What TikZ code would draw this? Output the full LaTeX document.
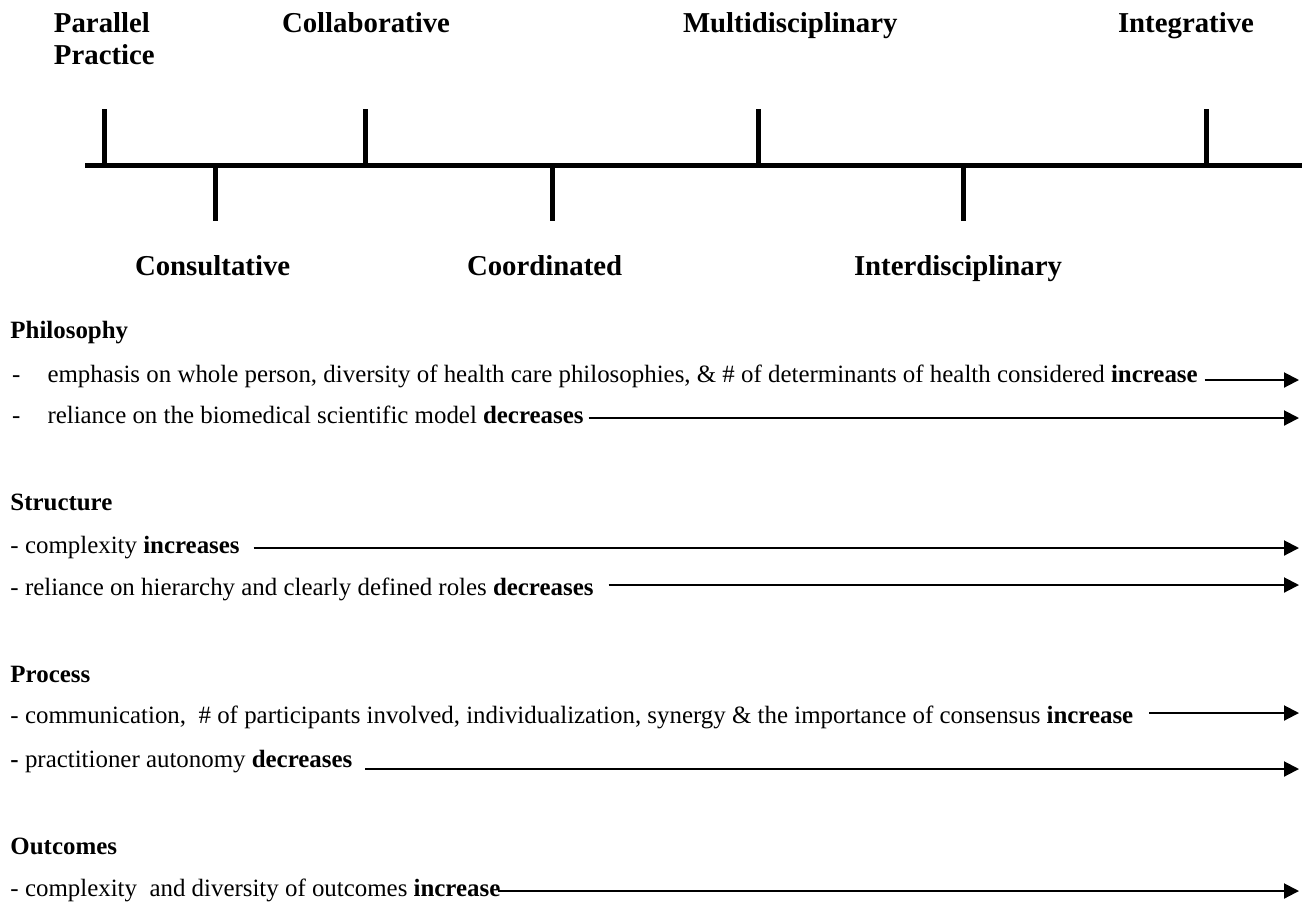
\documentclass[tikz,border=0pt]{standalone}
\usepackage{fontspec}
\setmainfont{Liberation Serif}
\usetikzlibrary{arrows.meta}
\begin{document}
\begin{tikzpicture}[x=0.5pt,y=-0.5pt,
  lab/.style={font=\fontsize{14.4}{16}\selectfont\bfseries, inner sep=0pt, outer sep=0pt, anchor=base west},
  txt/.style={font=\fontsize{12.45}{14}\selectfont, inner sep=0pt, outer sep=0pt, anchor=base west},
  hdr/.style={txt, font=\fontsize{12.45}{14}\selectfont\bfseries},
  tl/.style={line width=2.5pt},
  arr/.style={line width=1pt, -{Triangle[length=7.5pt,width=7.5pt]}}]
\useasboundingbox (0,0) rectangle (1305,901);

% timeline
\draw[tl] (85,165) -- (1302,165);
\draw[tl] (104,109) -- (104,165);
\draw[tl] (365,109) -- (365,165);
\draw[tl] (758,109) -- (758,165);
\draw[tl] (1206,109) -- (1206,165);
\draw[tl] (215,165) -- (215,221);
\draw[tl] (552,165) -- (552,221);
\draw[tl] (963,165) -- (963,221);

% stage labels
\node[lab] (par) at (54,32) {Parallel};
\node[lab] (prac) at (54,64) {Practice};
\node[lab] (col) at (282,32) {Collaborative};
\node[lab] (mul) at (683,32) {Multidisciplinary};
\node[lab] (int) at (1118,32) {Integrative};
\node[lab] (con) at (135,275) {Consultative};
\node[lab] (coo) at (467,275) {Coordinated};
\node[lab] (intd) at (854,275) {Interdisciplinary};

% sections
\node[hdr] (h1) at (10.5,338) {Philosophy};
\node[txt] (d1) at (12,382) {-};
\node[txt] (t1) at (47.5,382) {emphasis on whole person, diversity of health care philosophies, \& \# of determinants of health considered \textbf{increase}};
\node[txt] (d2) at (12,423) {-};
\node[txt] (t2) at (47.5,423) {reliance on the biomedical scientific model \textbf{decreases}};

\node[hdr] (h2) at (10.5,510) {Structure};
\node[txt] (t3) at (10.5,553) {- complexity \textbf{increases}};
\node[txt] (t4) at (10.5,595) {- reliance on hierarchy and clearly defined roles \textbf{decreases}};

\node[hdr] (h3) at (10.5,682) {Process};
\node[txt] (t5) at (10.5,723) {- communication,\ \ \# of participants involved, individualization, synergy \& the importance of consensus \textbf{increase}};
\node[txt] (t6) at (10.5,767) {\textbf{-} practitioner autonomy \textbf{decreases}};

\node[hdr] (h4) at (10.5,854) {Outcomes};
\node[txt] (t7) at (10.5,896) {- complexity\ \ and diversity of outcomes \textbf{increase}};

\coordinate (R) at (1299,0);

\draw[arr] ([xshift=3.5pt,yshift=1pt]t1.base east) coordinate (s1) -- (s1 -| R);
\draw[arr] ([xshift=2.5pt,yshift=2.5pt]t2.base east) coordinate (s2) -- (s2 -| R);
\draw[arr] ([xshift=7pt,yshift=2.5pt]t3.base east) coordinate (s3) -- (s3 -| R);
\draw[arr] ([xshift=7.5pt,yshift=5pt]t4.base east) coordinate (s4) -- (s4 -| R);
\draw[arr] ([xshift=8pt,yshift=5pt]t5.base east) coordinate (s5) -- (s5 -| R);
\draw[arr] ([xshift=6.5pt,yshift=-1pt]t6.base east) coordinate (s6) -- (s6 -| R);
\draw[arr] ([xshift=-1pt,yshift=2.5pt]t7.base east) coordinate (s7) -- (s7 -| R);
\end{tikzpicture}
\end{document}
